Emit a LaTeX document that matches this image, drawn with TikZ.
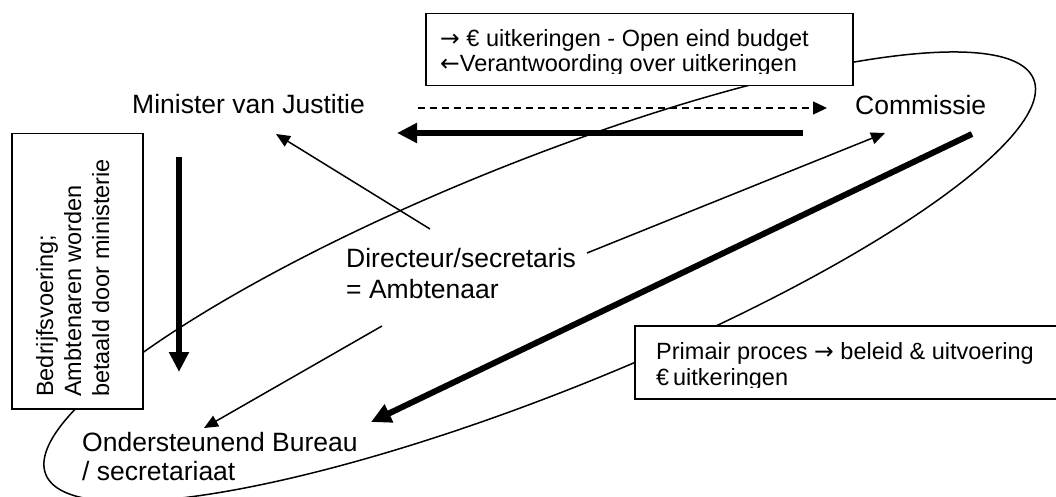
\documentclass[tikz,border=0pt]{standalone}
\usepackage{fontspec}
\setmainfont{Liberation Sans}
\newfontfamily\arrowfont{DejaVu Sans}
\newcommand\myrarr{{\arrowfont →}}
\newcommand\mylarr{{\arrowfont ←}}
\usetikzlibrary{arrows.meta}
\begin{document}
\begin{tikzpicture}[x=1pt,y=-1pt,
  lbl/.style={anchor=base west, inner sep=0pt, font=\fontsize{26.5}{30}\selectfont},
  boxtxt/.style={anchor=base west, inner sep=0pt, font=\fontsize{23.5}{27}\selectfont},
  arrthin/.style={line width=1.5pt, -{Triangle[length=14pt,width=12pt]}},
  arrthick/.style={line width=6pt, -{Triangle[length=20pt,width=19pt]}},
  arrdashed/.style={line width=1.4pt, dash pattern=on 7pt off 5pt, -{Triangle[length=14pt,width=13pt]}},
  boxframe/.style={draw, line width=1.5pt, fill=white, inner sep=0pt, anchor=north west},
  loop/.style={line width=1.5pt}
]
\useasboundingbox (0,0) rectangle (1056,497);
\begin{scope}
\clip (0,0) rectangle (1056,497);
% big ellipse
\draw[loop, rotate around={21.8:(539.7,276.8)}] (539.7,276.8) ellipse [x radius=532, y radius=115.5];

% boxes
\node[boxframe, minimum width=427pt, minimum height=72pt] (topbox) at (425,13) {};
\node[boxframe, minimum width=131pt, minimum height=275pt] (leftbox) at (11,133) {};
\node[boxframe, minimum width=440pt, minimum height=73pt] (rightbox) at (634,325) {};

\begin{scope}
\clip (425,13) rectangle (852,74);
\node[boxtxt] (tb1) at (440,47) {\myrarr\ € uitkeringen - Open eind budget};
\node[boxtxt] (tb2) at (440,72) {\mylarr Verantwoording over uitkeringen};
\end{scope}

\node[boxtxt, rotate=90] (lb1) at (53,397) {Bedrijfsvoering;};
\node[boxtxt, rotate=90] (lb2) at (81,397) {Ambtenaren worden};
\node[boxtxt, rotate=90] (lb3) at (109,397) {betaald door ministerie};

\begin{scope}
\clip (634,325) rectangle (1056,387);
\node[boxtxt] (rb1) at (656,359) {Primair proces \myrarr\ beleid \& uitvoering};
\node[boxtxt] (rb2) at (656,385) {€\,uitkeringen};
\end{scope}

% labels
\node[lbl] (min) at (132,114) {Minister van Justitie};
\node[lbl] (com) at (855,115) {Commissie};
\node[lbl] (dir1) at (346,267) {Directeur/secretaris};
\node[lbl] (dir2) at (346,298) {= Ambtenaar};
\node[lbl] (ond1) at (82,451) {Ondersteunend Bureau};
\node[lbl] (ond2) at (82,480) {/ secretariaat};

% arrow end points
\coordinate (minR) at (418,108);
\coordinate (comL) at (827,108);
\coordinate (comL2) at (803,133);
\coordinate (minR2) at (397,133);
\coordinate (minB) at (179,157);
\coordinate (ondT) at (179,372);
\coordinate (comB) at (972,134);
\coordinate (ondR) at (371,422);
\coordinate (dirA) at (430,229);
\coordinate (minS) at (276,134);
\coordinate (dirB) at (587,253);
\coordinate (comS) at (885,133);
\coordinate (dirC) at (382,326);
\coordinate (ondS) at (204,428);

\draw[arrdashed] (minR) -- (comL);
\draw[arrthick] (comL2) -- (minR2);
\draw[arrthick] (minB) -- (ondT);
\draw[arrthick] (comB) -- (ondR);
\draw[arrthin] (dirA) -- (minS);
\draw[arrthin] (dirB) -- (comS);
\draw[arrthin] (dirC) -- (ondS);
\end{scope}
\end{tikzpicture}
\end{document}
